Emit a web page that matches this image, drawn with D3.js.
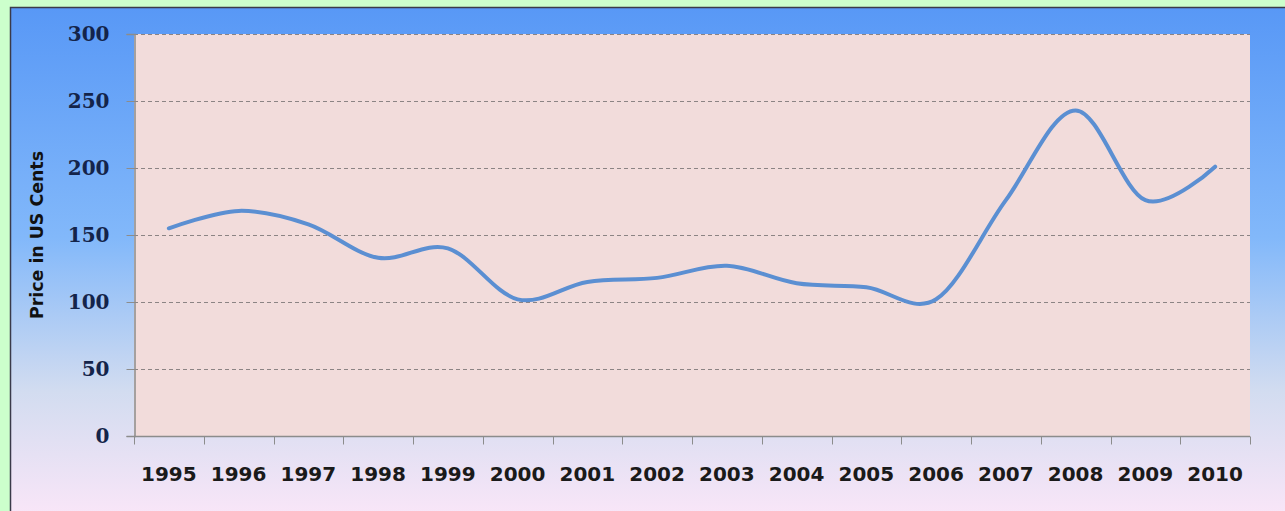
<!DOCTYPE html>
<html>
<head>
<meta charset="utf-8">
<script src="https://cdn.jsdelivr.net/npm/d3@7"></script>
<style>
  html, body { margin: 0; padding: 0; background: #ccffcc; }
  svg { display: block; }
</style>
</head>
<body>
<div id="chart"></div>
<script>
var years = ['1995', '1996', '1997', '1998', '1999', '2000', '2001', '2002',
             '2003', '2004', '2005', '2006', '2007', '2008', '2009', '2010'];
var prices = [155, 168, 158, 133, 140, 102, 115, 118, 127, 114, 111, 102, 176, 243, 176, 201];
var yTicks = [0, 50, 100, 150, 200, 250, 300];

var W = 1285, H = 511,
    margin = { left: 134, right: 35, top: 34, bottom: 75 };

var svg = d3.select('#chart')
  .append('svg')
  .attr('width', W)
  .attr('height', H);

var defs = svg.append('defs');
var grad = defs.append('linearGradient')
  .attr('id', 'panelGrad')
  .attr('x1', 0).attr('y1', 0).attr('x2', 0).attr('y2', 1);
grad.append('stop').attr('offset', '0%').attr('stop-color', '#5898f6');
grad.append('stop').attr('offset', '45%').attr('stop-color', '#82b8fa');
grad.append('stop').attr('offset', '75%').attr('stop-color', '#d2dcf0');
grad.append('stop').attr('offset', '100%').attr('stop-color', '#fae6f8');

// outer panel
svg.append('rect')
  .attr('x', 10.5).attr('y', 7.5)
  .attr('width', W).attr('height', H)
  .attr('fill', 'url(#panelGrad)')
  .attr('stroke', '#3a3a4a')
  .attr('stroke-width', 1.5);

var x = d3.scaleBand()
  .domain(years)
  .range([margin.left, W - margin.right]);

var y = d3.scaleLinear()
  .domain([0, 300])
  .range([H - margin.bottom, margin.top]);

// plot area
svg.append('rect')
  .attr('x', margin.left)
  .attr('y', margin.top)
  .attr('width', W - margin.right - margin.left)
  .attr('height', H - margin.bottom - margin.top)
  .attr('fill', '#f2dcdb');

// gridlines
svg.selectAll('line.grid')
  .data(yTicks.filter(function(d) { return d > 0; }))
  .enter()
  .append('line')
  .attr('class', 'grid')
  .attr('x1', margin.left)
  .attr('x2', W - margin.right)
  .attr('y1', function(d) { return Math.round(y(d)) + 0.5; })
  .attr('y2', function(d) { return Math.round(y(d)) + 0.5; })
  .attr('stroke', '#8c8484')
  .attr('stroke-width', 1)
  .attr('stroke-dasharray', '4,3');

// y axis
var yAxis = svg.append('g')
  .attr('transform', 'translate(' + (margin.left + 0.5) + ',0)')
  .call(d3.axisLeft(y).tickValues(yTicks).tickSize(8).tickPadding(17));
yAxis.select('.domain').attr('stroke', '#8c8c8c').attr('stroke-width', 1.5);
yAxis.selectAll('.tick line').attr('stroke', '#8c8c8c');
yAxis.selectAll('text')
  .attr('fill', '#14244a')
  .style('font-family', '"DejaVu Serif", serif')
  .style('font-weight', 'bold')
  .style('font-size', '20px');

// x axis, ticks at band edges
var xAxisG = svg.append('g')
  .attr('transform', 'translate(0,' + (H - margin.bottom + 0.5) + ')');
xAxisG.append('line')
  .attr('x1', margin.left).attr('x2', W - margin.right)
  .attr('stroke', '#8c8c8c').attr('stroke-width', 1.5);
var edges = years.map(function(d) { return x(d); }).concat([W - margin.right]);
xAxisG.selectAll('line.tk')
  .data(edges)
  .enter()
  .append('line')
  .attr('class', 'tk')
  .attr('x1', function(d) { return Math.round(d) + 0.5; })
  .attr('x2', function(d) { return Math.round(d) + 0.5; })
  .attr('y1', 0).attr('y2', 8)
  .attr('stroke', '#8c8c8c');
xAxisG.selectAll('text')
  .data(years)
  .enter()
  .append('text')
  .attr('x', function(d) { return x(d) + x.bandwidth() / 2; })
  .attr('y', 44)
  .attr('text-anchor', 'middle')
  .attr('fill', '#1a1a1a')
  .style('font-family', '"DejaVu Sans", sans-serif')
  .style('font-weight', 'bold')
  .style('font-size', '20px')
  .text(function(d) { return d; });

// axis title
svg.append('text')
  .attr('transform', 'translate(43,' + ((margin.top + H - margin.bottom) / 2) + ') rotate(-90)')
  .attr('text-anchor', 'middle')
  .attr('fill', '#111')
  .attr('textLength', 168)
  .attr('lengthAdjust', 'spacingAndGlyphs')
  .style('font-family', '"DejaVu Sans", sans-serif')
  .style('font-weight', 'bold')
  .style('font-size', '18px')
  .text('Price in US Cents');

// price line
var line = d3.line()
  .x(function(d, i) { return x(years[i]) + x.bandwidth() / 2; })
  .y(function(d) { return y(d); })
  .curve(d3.curveCardinal.tension(0));

svg.append('path')
  .datum(prices)
  .attr('d', line)
  .attr('fill', 'none')
  .attr('stroke', '#5b8fd2')
  .attr('stroke-width', 4)
  .attr('stroke-linecap', 'round');
</script>
</body>
</html>
